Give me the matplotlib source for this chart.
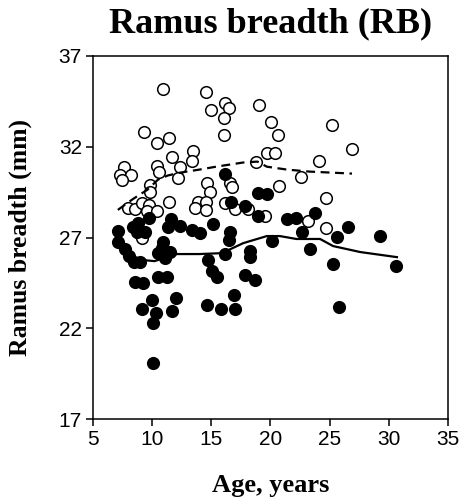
import numpy as np
import matplotlib
matplotlib.use("Agg")
import matplotlib.pyplot as plt

# open circles (one group)
open_age = [10.90, 14.54, 16.15, 14.97, 16.49, 16.07, 19.03, 20.05, 25.21, 20.64,
            16.07, 9.29, 11.41, 10.39, 11.66, 13.44, 13.36, 26.90, 19.71, 20.39,
            18.78, 24.11, 10.39, 10.56, 12.34, 7.60, 7.26, 8.19, 7.43, 12.17,
            9.80, 9.80, 14.63, 14.88, 16.58, 16.75, 22.59, 20.73, 11.41, 13.87,
            14.54, 13.61, 14.54, 16.15, 16.99, 18.09, 7.94, 8.53, 9.12, 9.72,
            9.55, 10.39, 19.54, 23.18, 24.71, 24.71, 8.95, 9.12]
open_rb = [35.17, 35.00, 34.40, 34.01, 34.12, 33.57, 34.29, 33.34, 33.18, 32.62,
           32.62, 32.79, 32.46, 32.18, 31.46, 31.74, 31.24, 31.90, 31.63, 31.63,
           31.18, 31.24, 30.96, 30.63, 30.91, 30.91, 30.46, 30.46, 30.19, 30.30,
           29.91, 29.52, 30.02, 29.52, 30.02, 29.80, 30.35, 29.85, 28.97, 28.97,
           28.97, 28.63, 28.52, 28.91, 28.58, 28.58, 28.63, 28.58, 28.91, 28.80,
           28.47, 28.47, 28.19, 27.91, 29.19, 27.53, 27.19, 26.97]

# filled circles (other group)
fill_age = [16.15, 18.95, 19.71, 16.66, 17.84, 18.95, 21.40, 22.16, 23.77, 22.67,
            26.57, 25.64, 29.28, 20.13, 23.35, 25.30, 30.63, 25.81, 18.69, 18.27,
            18.27, 17.84, 15.14, 16.58, 16.49, 16.15, 14.03, 13.36, 12.34, 11.33,
            11.58, 9.72, 8.78, 8.36, 8.70, 9.38, 7.09, 7.09, 7.68, 8.02,
            8.45, 8.95, 10.90, 10.82, 10.48, 11.50, 11.07, 14.71, 15.05, 15.47,
            8.53, 9.21, 10.48, 11.24, 9.97, 9.12, 10.31, 10.06, 12.00, 11.66,
            14.63, 15.81, 16.91, 16.99, 10.06]
fill_rb = [30.52, 29.47, 29.41, 28.97, 28.75, 28.19, 28.02, 28.08, 28.36, 27.30,
           27.58, 27.03, 27.08, 26.81, 26.36, 25.53, 25.42, 23.15, 24.65, 26.25,
           25.92, 24.92, 27.75, 27.30, 26.86, 26.09, 27.25, 27.42, 27.64, 27.58,
           28.02, 28.08, 27.80, 27.58, 27.30, 27.30, 27.36, 26.75, 26.36, 25.97,
           25.64, 25.64, 26.75, 26.42, 26.14, 26.20, 25.86, 25.75, 25.14, 24.81,
           24.53, 24.48, 24.81, 24.81, 23.54, 23.09, 22.82, 22.32, 23.65, 22.98,
           23.26, 23.09, 23.81, 23.09, 20.10]

# smoothed curves
dash_age = [7.1, 8.4, 9.6, 10.5, 11.3, 12.35, 14.0, 15.5, 17.7, 18.9, 19.7, 21.4, 23.3, 26.9]
dash_rb = [28.52, 29.13, 29.63, 30.19, 30.41, 30.57, 30.74, 30.91, 31.13, 31.18, 30.9, 30.74, 30.63, 30.52]
solid_age = [7.0, 7.5, 8.4, 9.4, 10.2, 11.25, 12.1, 14.0, 15.9, 17.7, 19.7, 20.8, 22.2, 24.2, 25.3, 27.6, 30.7]
solid_rb = [26.58, 26.3, 25.92, 25.75, 25.7, 25.92, 26.09, 26.09, 26.14, 26.69, 27.08, 27.08, 26.92, 26.92, 26.53, 26.2, 25.92]

fig = plt.figure(figsize=(4.65, 4.99), dpi=100)
ax = fig.add_axes([0.2, 0.160, 0.763, 0.728])

ax.scatter(open_age, open_rb, s=70, facecolors="white", edgecolors="black", linewidths=1.1, zorder=3)
ax.scatter(fill_age, fill_rb, s=70, facecolors="black", edgecolors="black", linewidths=1.1, zorder=4)
ax.plot(dash_age, dash_rb, color="black", lw=1.6, ls=(0, (4, 2.5)), zorder=5)
ax.plot(solid_age, solid_rb, color="black", lw=1.6, zorder=5)

ax.set_xlim(5, 35)
ax.set_ylim(17, 37)
ax.set_xticks([5, 10, 15, 20, 25, 30, 35])
ax.set_yticks([17, 22, 27, 32, 37])
for lab in ax.get_xticklabels() + ax.get_yticklabels():
    lab.set_family("Liberation Sans")
    lab.set_fontsize(15)
ax.tick_params(direction="out", length=5, width=1.1, pad=3)
for sp in ax.spines.values():
    sp.set_linewidth(1.1)

ax.set_xlabel("Age, years", family="Liberation Serif", fontweight="bold", fontsize=19, labelpad=18)
ax.set_ylabel("Ramus breadth (mm)", family="Liberation Serif", fontweight="bold", fontsize=18.5, labelpad=19)
ax.set_title("Ramus breadth (RB)", family="Liberation Serif", fontweight="bold", fontsize=26, pad=17)

fig.savefig("out.png", dpi=100)
